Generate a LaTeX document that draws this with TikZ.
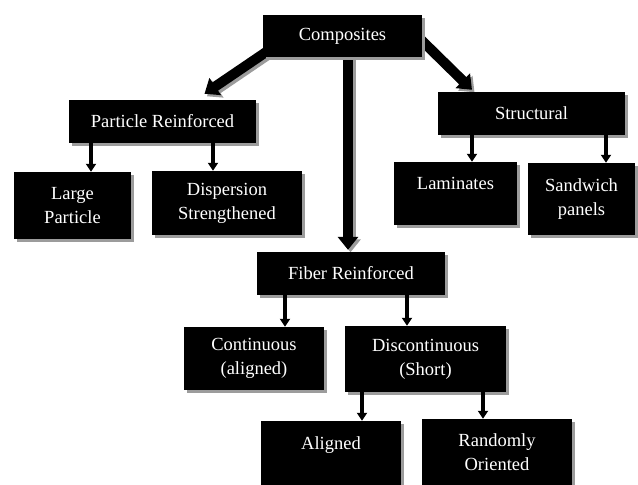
\documentclass[tikz,border=0pt]{standalone}
\usepackage{fontspec}
\setmainfont{Liberation Serif}
\usetikzlibrary{positioning,arrows.meta,shadows,backgrounds}
\definecolor{shade}{HTML}{9C9C9C}
\tikzset{
  box/.style={fill=black,text=white,inner sep=2pt,align=center,font=\fontsize{18.5}{24}\selectfont,
    drop shadow={shadow xshift=3pt,shadow yshift=-3pt,fill=shade,opacity=1}},
  toptext/.style={text depth=20pt},
  flow/.style={-{Triangle[width=10pt,length=8pt]},line width=3.5pt},
  bigflow/.style={-{Triangle[width=20pt,length=13pt]},line width=10pt},
  bigshade/.style={bigflow,draw=shade,transform canvas={xshift=2.5pt,yshift=-2.5pt}}}

\begin{document}
\begin{tikzpicture}[x=1pt,y=-1pt]
  \useasboundingbox (0,0) rectangle (638,485);
  % top level
  \node[box,minimum width=159pt,minimum height=42pt] (comp) at (342.5,36) {Composites};
  \node[box,minimum width=187pt,minimum height=43pt] (part) at (162.5,121.5) {Particle Reinforced};
  \node[box,minimum width=187pt,minimum height=43pt] (struct) at (531.5,113.5) {Structural};
  \node[box,minimum width=188pt,minimum height=43pt] (fiber) at (351,273.5) {Fiber Reinforced};
  % particle branch
  \node[box,minimum width=117pt,minimum height=67pt] (large) at (72.5,205.5) {Large\\Particle};
  \node[box,minimum width=150pt,minimum height=64pt] (disp) at (227,203) {Dispersion\\Strengthened};
  % structural branch
  \node[box,toptext,minimum width=123pt,minimum height=63pt] (lam) at (455.5,193.5) {Laminates};
  \node[box,minimum width=107pt,minimum height=72pt] (sand) at (581.5,199) {Sandwich\\panels};
  % fiber branch
  \node[box,minimum width=140pt,minimum height=63pt] (cont) at (254,358.5) {Continuous\\(aligned)};
  \node[box,minimum width=161pt,minimum height=66pt] (disc) at (425.5,359) {Discontinuous\\(Short)};
  \node[box,toptext,minimum width=140pt,minimum height=64pt] (alig) at (331,453) {Aligned};
  \node[box,minimum width=150pt,minimum height=66pt] (rand) at (497,452) {Randomly\\Oriented};
  % thick arrows with their shadows, under the boxes
  \begin{scope}[on background layer]
    \draw[bigshade] ([xshift=3pt,yshift=5pt]comp.south west) -- ([xshift=42pt,yshift=6pt]part.north);
    \draw[bigshade] ([xshift=-5pt]comp.east) -- ([xshift=-59.5pt,yshift=2pt]struct.north);
    \draw[bigshade] ([xshift=5.5pt]comp.south) -- ([xshift=-3pt,yshift=2pt]fiber.north);
    \draw[bigflow] ([xshift=3pt,yshift=5pt]comp.south west) -- ([xshift=42pt,yshift=6pt]part.north);
    \draw[bigflow] ([xshift=-5pt]comp.east) -- ([xshift=-59.5pt,yshift=2pt]struct.north);
    \draw[bigflow] ([xshift=5.5pt]comp.south) -- ([xshift=-3pt,yshift=2pt]fiber.north);
  \end{scope}
  \draw[flow] ([xshift=-71.5pt]part.south) -- ([xshift=18.5pt]large.north);
  \draw[flow] ([xshift=50.5pt]part.south) -- ([xshift=-14pt]disp.north);
  \draw[flow] ([xshift=-59.5pt]struct.south) -- ([xshift=16.5pt]lam.north);
  \draw[flow] ([xshift=74.5pt]struct.south) -- ([xshift=24.5pt]sand.north);
  \draw[flow] ([xshift=-66pt]fiber.south) -- ([xshift=31pt]cont.north);
  \draw[flow] ([xshift=56pt]fiber.south) -- ([xshift=-18.5pt]disc.north);
  \draw[flow] ([xshift=-63.5pt]disc.south) -- ([xshift=31pt]alig.north);
  \draw[flow] ([xshift=57.5pt]disc.south) -- ([xshift=-14pt]rand.north);
\end{tikzpicture}
\end{document}
